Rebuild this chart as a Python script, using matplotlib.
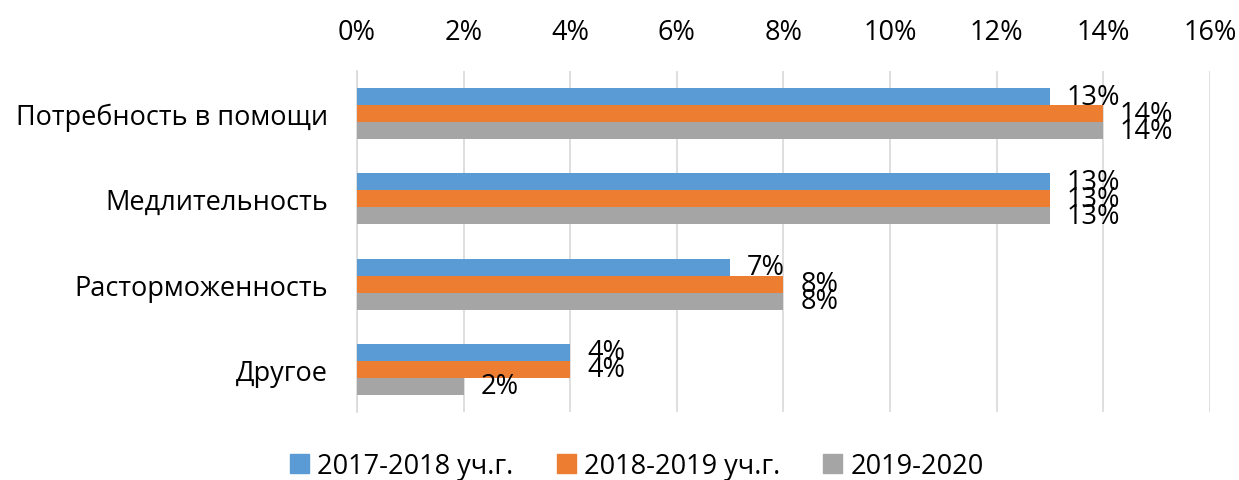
import matplotlib
matplotlib.use("Agg")
import matplotlib.pyplot as plt
import numpy as np
from matplotlib.ticker import FuncFormatter, MultipleLocator
from matplotlib.patches import Patch

plt.rcParams['font.family'] = ['Open Sans', 'DejaVu Sans']

categories = ["Потребность в помощи", "Медлительность", "Расторможенность", "Другое"]
series_names = ["2017-2018 уч.г.", "2018-2019 уч.г.", "2019-2020"]
s2017 = [13, 13, 7, 4]
s2018 = [14, 13, 8, 4]
s2019 = [14, 13, 8, 2]
colors = ["#5B9BD5", "#ED7D31", "#A5A5A5"]

fig = plt.figure(figsize=(12.39, 4.81), dpi=100)
ax = fig.add_axes([0.2881, 0.1414, 0.6885, 0.709])

y = np.arange(len(categories))
h = 0.2
for i, (vals, c) in enumerate(zip([s2017, s2018, s2019], colors)):
    pos = y + (i - 1) * h
    ax.barh(pos, vals, height=h, color=c, zorder=3)
    for p, v in zip(pos, vals):
        ax.annotate(f"{v}%", xy=(v, p), xytext=(12, 0), textcoords="offset points",
                    ha="left", va="center", fontsize=19.5, color="black", zorder=4)

ax.set_xlim(0, 16)
ax.set_ylim(3.5, -0.5)
ax.xaxis.set_major_locator(MultipleLocator(2))
ax.xaxis.set_major_formatter(FuncFormatter(lambda v, _: f"{int(v)}%"))
ax.xaxis.tick_top()
ax.tick_params(axis="x", length=0, pad=18, labelsize=19.5)
ax.tick_params(axis="y", length=0, pad=21, labelsize=19.5)
ax.set_yticks(y)
ax.set_yticklabels(categories)
ax.grid(axis="x", color="#D9D9D9", linewidth=1.2, zorder=0)
for s in ["top", "right", "bottom"]:
    ax.spines[s].set_visible(False)
ax.spines["left"].set_color("#D9D9D9")
ax.spines["left"].set_linewidth(1.2)

handles = [Patch(color=c, label=n) for c, n in zip(colors, series_names)]
fig.legend(handles=handles, loc="center", bbox_to_anchor=(0.514, 0.03), ncol=3,
           frameon=False, fontsize=19.5, handlelength=0.7, handleheight=0.7,
           columnspacing=1.6, handletextpad=0.3)

fig.savefig("out.png", dpi=100)
